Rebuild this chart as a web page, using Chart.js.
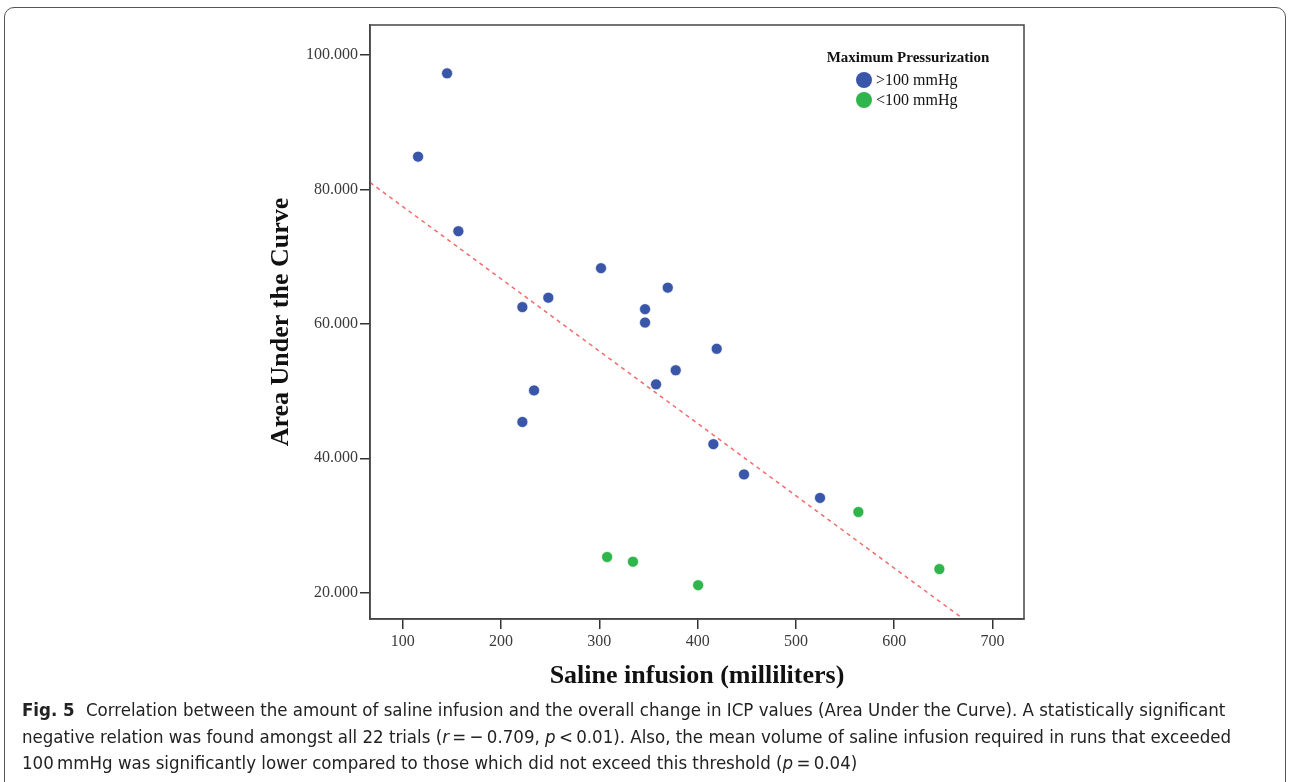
<!DOCTYPE html>
<html>
<head>
<meta charset="utf-8">
<script src="https://cdn.jsdelivr.net/npm/chart.js@4.4.0/dist/chart.umd.min.js"></script>
<style>
  body { margin: 0; width: 1290px; height: 782px; overflow: hidden; background: #fff; position: relative; }
  .frame { position: absolute; left: 4px; top: 7px; width: 1282px; height: 790px; border: 1.5px solid #555; border-radius: 10px; box-sizing: border-box; }
  #wrap { position: absolute; left: 0; top: 0; width: 1290px; height: 700px; }
  .legend { position: absolute; left: 808px; top: 47px; width: 200px; font-family: "Liberation Serif", "Times New Roman", serif; color: #111; }
  .legend .title { font-weight: bold; font-size: 15px; text-align: center; line-height: 20px; }
  .legend .item { position: absolute; left: 48px; font-size: 16px; line-height: 20px; white-space: nowrap; }
  .legend .dot { display: inline-block; width: 16px; height: 16px; border-radius: 50%; vertical-align: -3px; margin-right: 4px; }
  .caption { position: absolute; left: 22px; top: 697px; font-family: "Liberation Sans Narrow", "DejaVu Sans Condensed", sans-serif; font-size: 18.5px; line-height: 26.5px; color: #222; white-space: nowrap; }
  .caption b { font-weight: bold; margin-right: 6px; }
</style>
</head>
<body>
<div class="frame"></div>
<div id="wrap"><canvas id="chart-auc"></canvas></div>
<div class="legend" id="legend"></div>
<div class="caption">
  <b>Fig. 5</b> Correlation between the amount of saline infusion and the overall change in ICP values (Area Under the Curve). A statistically significant<br>
  negative relation was found amongst all 22 trials (<i>r</i>&thinsp;=&thinsp;&minus;&thinsp;0.709, <i>p</i>&thinsp;&lt;&thinsp;0.01). Also, the mean volume of saline infusion required in runs that exceeded<br>
  100&thinsp;mmHg was significantly lower compared to those which did not exceed this threshold (<i>p</i>&thinsp;=&thinsp;0.04)
</div>
<script>
// values
const legendTitle = 'Maximum Pressurization';
const seriesNames = ['>100 mmHg', '<100 mmHg'];

const highX = [145.1, 115.6, 156.6, 301.7, 369.6, 248.1, 221.7, 346.5, 346.5, 419.4, 377.7, 357.7, 233.6, 221.7, 416.0, 447.2, 524.5];
const highY = [97.3, 84.9, 73.8, 68.3, 65.4, 63.9, 62.5, 62.2, 60.2, 56.3, 53.1, 51.0, 50.1, 45.4, 42.1, 37.6, 34.1];

const lowX = [563.5, 307.9, 334.2, 400.5, 645.9];
const lowY = [32.0, 25.3, 24.6, 21.1, 23.5];

// fit line end points
const fitX = [66.7, 667.6];
const fitY = [81.06, 16.37];

const xTicks = [100, 200, 300, 400, 500, 600, 700];
const yTicks = [20, 40, 60, 80, 100];
const yTickLabels = ['20.000', '40.000', '60.000', '80.000', '100.000'];

const colors = ['#3a56a8', '#2fb54c'];

function toPoints(xs, ys) {
    return xs.map((x, i) => ({x: x, y: ys[i]}));
}

// box round the plot area
const plotFrame = {
    id: 'plotFrame',
    afterDraw(chart) {
        const {ctx, chartArea: a} = chart;
        ctx.save();
        ctx.strokeStyle = '#444';
        ctx.lineWidth = 1.5;
        ctx.strokeRect(a.left, a.top, a.right - a.left, a.bottom - a.top);
        ctx.restore();
    }
};

const serif = '"Liberation Serif", "Times New Roman", serif';

const ctx = document.getElementById('chart-auc').getContext('2d');
const chartAuc = new Chart(ctx, {
    type: 'scatter',
    plugins: [plotFrame],
    data: {
        datasets: [
            {
                label: 'fit',
                type: 'line',
                data: toPoints(fitX, fitY),
                borderColor: '#f26a6a',
                borderWidth: 1.5,
                borderDash: [4, 4],
                pointRadius: 0,
                fill: false
            },
            {
                label: seriesNames[0],
                data: toPoints(highX, highY),
                backgroundColor: colors[0],
                borderColor: 'rgba(255,255,255,0.8)',
                borderWidth: 0.8,
                pointRadius: 5.5
            },
            {
                label: seriesNames[1],
                data: toPoints(lowX, lowY),
                backgroundColor: colors[1],
                borderColor: 'rgba(255,255,255,0.8)',
                borderWidth: 0.8,
                pointRadius: 5.5
            }
        ]
    },
    options: {
        responsive: true,
        maintainAspectRatio: false,
        devicePixelRatio: 1,
        animation: false,
        layout: {
            padding: {top: 25, right: 266, left: 0, bottom: 0}
        },
        plugins: {
            legend: {display: false},
            tooltip: {enabled: false}
        },
        scales: {
            x: {
                type: 'linear',
                min: 66.7,
                max: 732,
                afterFit: scale => { scale.height = 81; },
                afterBuildTicks: scale => { scale.ticks = xTicks.map(v => ({value: v})); },
                grid: {drawOnChartArea: false, drawTicks: true, tickLength: 10, color: '#333', lineWidth: 1.5},
                border: {display: true, color: '#444', width: 1.5},
                ticks: {
                    padding: 3,
                    color: '#3a3a3a',
                    font: {family: serif, size: 16},
                    maxRotation: 0
                },
                title: {
                    display: true,
                    text: 'Saline infusion (milliliters)',
                    color: '#111',
                    font: {family: serif, size: 26, weight: 'bold'},
                    padding: {top: 0, bottom: 8}
                }
            },
            y: {
                type: 'linear',
                min: 16.07,
                max: 104.5,
                afterFit: scale => { scale.width = 370; },
                afterBuildTicks: scale => { scale.ticks = yTicks.map(v => ({value: v})); },
                grid: {drawOnChartArea: false, drawTicks: true, tickLength: 10, color: '#333', lineWidth: 1.5},
                border: {display: true, color: '#444', width: 1.5},
                ticks: {
                    padding: 2,
                    color: '#3a3a3a',
                    font: {family: serif, size: 16},
                    callback: value => yTickLabels[yTicks.indexOf(value)]
                },
                title: {
                    display: true,
                    text: 'Area Under the Curve',
                    color: '#111',
                    font: {family: serif, size: 26, weight: 'bold'},
                    padding: {top: 266, bottom: 0}
                }
            }
        }
    }
});

// legend as html, from the series names
const legendEl = document.getElementById('legend');
let html = '<div class="title">' + legendTitle + '</div>';
seriesNames.forEach((name, i) => {
    const label = name.replace('<', '&lt;').replace('>', '&gt;');
    html += '<div class="item" style="top:' + (23 + i * 20) + 'px"><span class="dot" style="background:' + colors[i] + '"></span>' + label + '</div>';
});
legendEl.innerHTML = html;
</script>
</body>
</html>
